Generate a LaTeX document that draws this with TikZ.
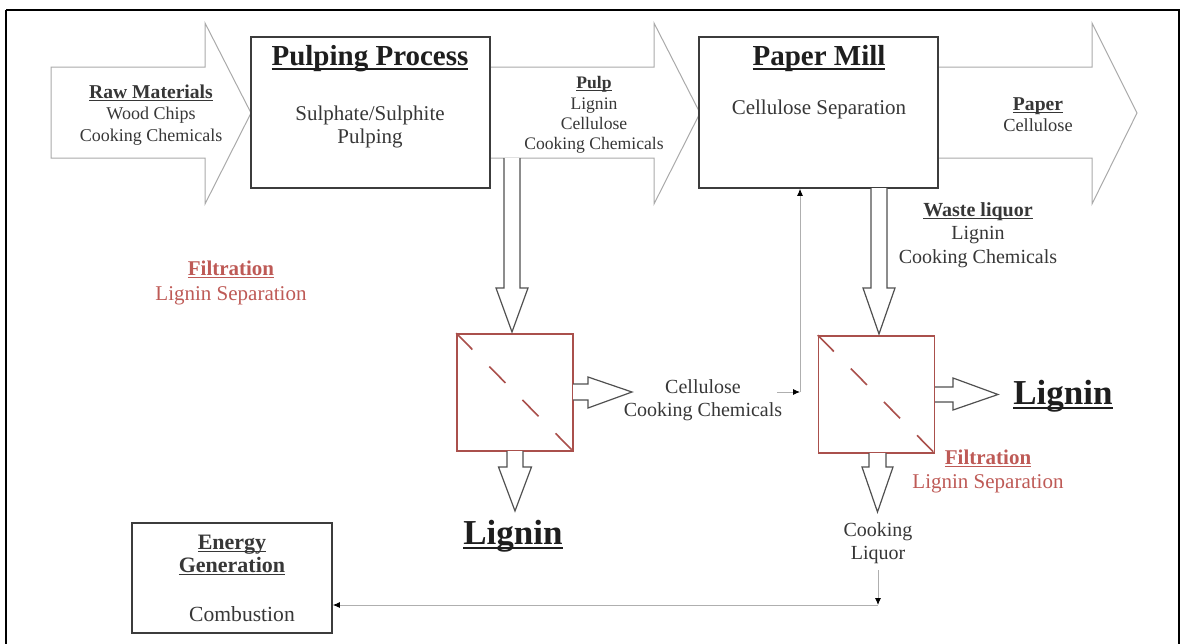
\documentclass[tikz,border=0pt]{standalone}
\usepackage{fontspec}
\setmainfont{Liberation Serif}
\usetikzlibrary{arrows.meta}
\definecolor{txt}{RGB}{55,55,55}
\definecolor{ttl}{RGB}{30,30,30}
\definecolor{redtxt}{RGB}{190,90,86}
\definecolor{filt}{RGB}{170,80,76}
\definecolor{bigarr}{RGB}{170,170,170}
\definecolor{hollow}{RGB}{80,80,80}
\definecolor{boxc}{RGB}{60,60,60}
\definecolor{thinl}{RGB}{175,175,175}
\newcommand\fsz[2]{\fontsize{#1}{#2}\selectfont}
\newcommand\myul[1]{\setbox0\hbox{#1}\rlap{\rule[-0.13em]{\wd0}{0.055em}}\box0}
\begin{document}
\begin{tikzpicture}[x=0.5pt,y=-0.5pt,
  bigarrow/.style={draw=bigarr,line width=0.5pt,fill=white},
  hollowarrow/.style={draw=hollow,line width=0.6pt,fill=white,line join=miter},
  procbox/.style={draw=boxc,line width=0.8pt,fill=white,minimum width=119.5pt,minimum height=75.5pt,inner sep=0pt},
  filterbox/.style={draw=filt,line width=0.8pt,fill=white,minimum width=58pt,minimum height=58.5pt,inner sep=0pt},
  lbl/.style={text=txt,align=center,inner sep=0pt},
  rlbl/.style={text=redtxt,align=center,inner sep=0pt},
  conn/.style={draw=thinl,line width=0.45pt,-{Latex[black,length=3.5pt,width=3pt]}},
  dashdiag/.style={draw=filt,line width=0.8pt,dash pattern=on 11.5pt off 12pt}]
\useasboundingbox (0,0) rectangle (1184,643);
% frame
\draw[black,line width=1.2pt] (6,10) -- (1179,10) -- (1179,660) (6,660) -- (6,10);
% big block arrows
\draw[bigarrow] (51,67) -- (205,67) -- (205,23) -- (251,113) -- (205,204) -- (205,158) -- (51,158) -- cycle;
\draw[bigarrow] (480,67) -- (654,67) -- (654,23) -- (700,113) -- (654,204) -- (654,158) -- (480,158);
\draw[bigarrow] (930,67) -- (1092,67) -- (1092,23) -- (1137,113) -- (1092,204) -- (1092,158) -- (930,158);
% process boxes
\node[procbox] (pulping) at (370.5,112.5) {};
\node[procbox] (papermill) at (818.5,112.5) {};
\node[draw=boxc,line width=0.8pt,fill=white,minimum width=100pt,minimum height=55pt,inner sep=0pt] (energy) at (232,578) {};
% filters
\node[filterbox] (f1) at (515,392.5) {};
\node[filterbox] (f2) at (876.5,394.5) {};
\draw[dashdiag] (f1.north west) -- (f1.south east);
\draw[dashdiag] (f2.north west) -- (f2.south east);
% hollow arrows (down)
\draw[hollowarrow] (504,158) -- (504,288) -- (496,288) -- (512,332) -- (528,288) -- (520,288) -- (520,158);
\draw[hollowarrow] (871,188) -- (871,288) -- (863,288) -- (879,334) -- (895,288) -- (887,288) -- (887,188);
\draw[hollowarrow] (507,451) -- (507,467) -- (498.5,467) -- (515,511) -- (531.5,467) -- (523,467) -- (523,451);
\draw[hollowarrow] (869,453) -- (869,467) -- (862,467) -- (877.5,512) -- (893,467) -- (886,467) -- (886,453);
% hollow arrows (right)
\draw[hollowarrow] (573,384) -- (588,384) -- (588,377) -- (632,392) -- (588,408) -- (588,400) -- (573,400);
\draw[hollowarrow] (935,387) -- (953,387) -- (953,378) -- (998,394.5) -- (953,410) -- (953,402) -- (935,402);
% texts
\node[lbl,text=ttl,font=\fsz{14.5}{17}\bfseries] (pptitle) at (370,59) {\myul{Pulping Process}};
\node[lbl,font=\fsz{10.5}{11.5}] (ppbody) at (370,127) {Sulphate/Sulphite\\Pulping};
\node[lbl,text=ttl,font=\fsz{14.5}{17}\bfseries] (pmtitle) at (819,59) {\myul{Paper Mill}};
\node[lbl,font=\fsz{10.5}{11.5}] (pmbody) at (819,109) {Cellulose Separation};
\node[lbl,font=\fsz{9}{10.75}] (raw) at (151,115) {{\fsz{9.8}{10.75}\bfseries\myul{Raw Materials}}\\Wood Chips\\Cooking Chemicals};
\node[lbl,font=\fsz{8.8}{10.2}] (pulp) at (594,115) {{\bfseries\myul{Pulp}}\\Lignin\\Cellulose\\Cooking Chemicals};
\node[lbl,font=\fsz{9.2}{10.5}] (paper) at (1038,115) {{\fsz{9.8}{10.5}\bfseries\myul{Paper}}\\Cellulose};
\node[lbl,font=\fsz{10}{11.75}] (waste) at (978,235) {{\bfseries\myul{Waste liquor}}\\Lignin\\Cooking Chemicals};
\node[rlbl,font=\fsz{10.5}{12.8}] (filtL) at (231,283) {{\bfseries\myul{Filtration}}\\Lignin Separation};
\node[rlbl,font=\fsz{10.5}{12}] (filtR) at (988,471) {{\bfseries\myul{Filtration}}\\Lignin Separation};
\node[lbl,font=\fsz{10}{11.5}] (mid) at (703,400) {Cellulose\\Cooking Chemicals};
\node[lbl,text=ttl,font=\fsz{17.5}{20}\bfseries] (ligR) at (1063,396) {\myul{Lignin}};
\node[lbl,text=ttl,font=\fsz{17.5}{20}\bfseries] (ligB) at (513,536) {\myul{Lignin}};
\node[lbl,font=\fsz{10}{11.5}] (cookliq) at (878,543) {Cooking\\Liquor};
\node[lbl,font=\fsz{11}{11.5}\bfseries] (engen) at (232,555) {\myul{Energy}\\\myul{Generation}};
\node[lbl,font=\fsz{10.8}{12}] (combust) at (242,614) {Combustion};
% thin connectors
\coordinate (fbs) at (777,392);
\coordinate (fbc) at (800,392);
\draw[conn] (fbs) -- (fbc);
\draw[conn] (fbc) -- (fbc |- papermill.south);
\coordinate (cls) at (878,570);
\coordinate (clc) at (878,605);
\draw[conn] (cls) -- (clc);
\draw[conn] (clc) -- (clc -| energy.east);
\end{tikzpicture}
\end{document}
